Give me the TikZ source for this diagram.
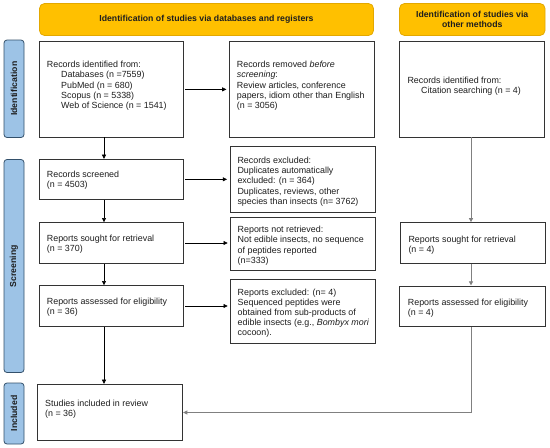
\documentclass[tikz,border=0pt]{standalone}
\usepackage{fontspec}
\setmainfont{Liberation Sans}
\usetikzlibrary{arrows.meta}
\definecolor{hdryellow}{HTML}{FFC000}
\definecolor{hdrborder}{HTML}{E3A800}
\definecolor{barblue}{HTML}{9DC3E6}
\definecolor{barborder}{HTML}{33506B}
\definecolor{boxline}{HTML}{333333}
\definecolor{txt}{HTML}{1E1E1E}
\definecolor{greyline}{HTML}{808080}
\tikzset{
  boxnode/.style={draw=boxline, line width=0.9pt, rectangle, inner sep=0pt},
  hdrnode/.style={draw=hdrborder, fill=hdryellow, line width=0.8pt, rounded corners=5pt, inner sep=0pt, align=center, text=txt, font=\fontsize{8.7}{10}\selectfont\bfseries},
  barnode/.style={draw=barborder, fill=barblue, line width=0.8pt, rounded corners=3pt, inner sep=0pt, rotate=90, text=txt, font=\fontsize{8.7}{10}\selectfont\bfseries},
  txtnode/.style={anchor=north west, inner sep=0pt, align=left, text=txt, font=\fontsize{8.9}{10.2}\selectfont},
  arr/.style={draw=black, line width=0.6pt, -{Triangle[length=4.2pt,width=4pt]}},
  garr/.style={draw=greyline, line width=0.8pt, -{Triangle[length=4.2pt,width=4pt]}}
}
\begin{document}
\begin{tikzpicture}[x=1pt,y=-1pt]
\useasboundingbox[fill=white] (0,0) rectangle (550,448);
% headers
\node[hdrnode, minimum width=334pt, minimum height=32pt] (hdrL) at (206.5,19.5) {Identification of studies via databases and registers};
\node[hdrnode, minimum width=145.5pt, minimum height=32pt] (hdrR) at (472.25,19.5) {Identification of studies via\\other methods};
% side bars
\node[barnode, minimum width=97.5pt, minimum height=20pt] (barI) at (14,88.75) {Identification};
\node[barnode, minimum width=213pt, minimum height=20pt] (barS) at (14,266) {Screening};
\node[barnode, minimum width=61pt, minimum height=20pt] (barN) at (14,413.5) {Included};
% boxes
\node[boxnode, minimum width=144.7pt, minimum height=95.3pt] (A) at (111.35,89.35) {};
\node[boxnode, minimum width=145pt, minimum height=95.3pt] (B) at (301.8,89.35) {};
\node[boxnode, minimum width=145pt, minimum height=95.3pt] (C) at (471.8,89.35) {};
\node[boxnode, minimum width=144.7pt, minimum height=40pt] (screened) at (111.35,179.3) {};
\node[boxnode, minimum width=145pt, minimum height=66pt] (exclA) at (302.5,179.7) {};
\node[boxnode, minimum width=144.7pt, minimum height=40.6pt] (sought) at (111.35,243) {};
\node[boxnode, minimum width=145pt, minimum height=53.4pt] (notret) at (303.2,244) {};
\node[boxnode, minimum width=145.5pt, minimum height=40.8pt] (soughtR) at (472.75,243.1) {};
\node[boxnode, minimum width=144.7pt, minimum height=40.6pt] (assessed) at (111.35,306) {};
\node[boxnode, minimum width=145pt, minimum height=64pt] (exclB) at (303.2,311.3) {};
\node[boxnode, minimum width=145.3pt, minimum height=40.7pt] (assessedR) at (472.35,306.3) {};
\node[boxnode, minimum width=145.4pt, minimum height=56.4pt] (studies) at (110,412.5) {};
% texts
\node[txtnode] (At) at (46.7,61.1) {Records identified from:\\\hspace*{14.3pt}Databases (n =7559)\\\hspace*{14.3pt}PubMed (n = 680)\\\hspace*{14.3pt}Scopus (n = 5338)\\\hspace*{14.3pt}Web of Science (n = 1541)};
\node[txtnode] (Bt) at (236.7,61.1) {Records removed \textit{before}\\\textit{screening}:\\Review articles, conference\\papers, idiom other than English\\(n = 3056)};
\node[txtnode] (Ct) at (407.3,76.8) {Records identified from:\\\hspace*{13.7pt}Citation searching (n = 4)};
\node[txtnode] (screenedt) at (46.7,171.1) {Records screened\\(n = 4503)};
\node[txtnode] (exclAt) at (237.3,156.8) {Records excluded:\\Duplicates automatically\\excluded: (n = 364)\\Duplicates, reviews, other\\species than insects (n= 3762)};
\node[txtnode] (soughtt) at (46.7,235.1) {Reports sought for retrieval\\(n = 370)};
\node[txtnode] (notrett) at (237.5,226.1) {Reports not retrieved:\\Not edible insects, no sequence\\of peptides reported\\(n=333)};
\node[txtnode] (soughtRt) at (408.3,235.8) {Reports sought for retrieval\\(n = 4)};
\node[txtnode] (assessedt) at (46.7,297.8) {Reports assessed for eligibility\\(n = 36)};
\node[txtnode] (exclBt) at (237.5,288.5) {Reports excluded: (n= 4)\\Sequenced peptides were\\obtained from sub-products of\\edible insects (e.g., \textit{Bombyx mori}\\cocoon).};
\node[txtnode] (assessedRt) at (407.7,298.8) {Reports assessed for eligibility\\(n = 4)};
\node[txtnode] (studiest) at (45,399.5) {Studies included in review\\(n = 36)};
% connector columns
\coordinate (xl) at (104,0);
\coordinate (xr) at (471,0);
% vertical arrows left
\draw[arr] (A.south -| xl) -- (screened.north -| xl);
\draw[arr] (screened.south -| xl) -- (sought.north -| xl);
\draw[arr] (sought.south -| xl) -- (assessed.north -| xl);
\draw[arr] (assessed.south -| xl) -- (studies.north -| xl);
% horizontal arrows
\draw[arr, shorten >=2.5pt, shorten <=1.3pt] (A.east |- B.west) -- (B.west);
\draw[arr, shorten >=2.5pt, shorten <=1.3pt] (screened.east) -- (screened.east -| exclA.west);
\draw[arr, shorten >=2.5pt, shorten <=1.3pt] (sought.east) -- (sought.east -| notret.west);
\draw[arr, shorten >=2.5pt, shorten <=1.3pt] (assessed.east) -- (assessed.east -| exclB.west);
% right column
\draw[garr] (C.south -| xr) -- (soughtR.north -| xr);
\draw[garr] (soughtR.south -| xr) -- (assessedR.north -| xr);
\draw[garr] (assessedR.south -| xr) |- (studies.east);
\end{tikzpicture}
\end{document}
